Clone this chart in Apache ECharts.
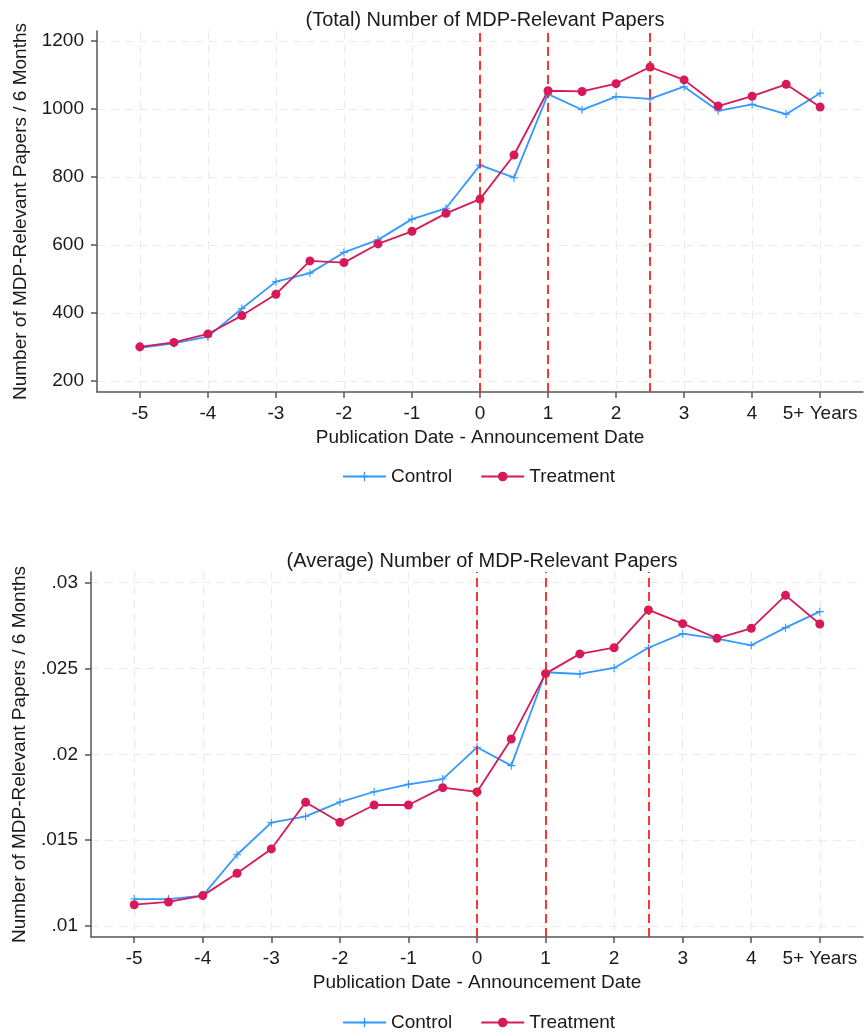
<!DOCTYPE html>
<html>
<head>
<meta charset="utf-8">
<script src="https://cdn.jsdelivr.net/npm/echarts@6/dist/echarts.min.js"></script>
<style>
  html, body { margin: 0; padding: 0; background: #fff; }
  #chart { width: 865px; height: 1036px; }
</style>
</head>
<body>
<div id="chart"></div>
<script>
// years relative to announcement, half-year steps
const xPos = [-5, -4.5, -4, -3.5, -3, -2.5, -2, -1.5, -1, -0.5, 0, 0.5, 1, 1.5, 2, 2.5, 3, 3.5, 4, 4.5, 5]
const xTicks = [-5, -4, -3, -2, -1, 0, 1, 2, 3, 4, 5]
const eventLines = [0, 1, 2.5]

const totalControl = [297, 310, 330, 413, 492, 517, 578, 615, 676, 708, 835, 798, 1044, 998, 1037, 1030, 1066, 995, 1014, 985, 1047]
const totalTreatment = [300, 313, 338, 392, 455, 553, 548, 603, 640, 693, 735, 865, 1054, 1052, 1075, 1124, 1086, 1009, 1038, 1073, 1006]
const totalTicks = [200, 400, 600, 800, 1000, 1200]

const avgControl = [0.01157, 0.01157, 0.01177, 0.01415, 0.01602, 0.01639, 0.01722, 0.01782, 0.01825, 0.01856, 0.02041, 0.01934, 0.02478, 0.02468, 0.02503, 0.02621, 0.02703, 0.02674, 0.02635, 0.02738, 0.02831]
const avgTreatment = [0.01124, 0.0114, 0.01177, 0.01307, 0.01449, 0.01721, 0.01604, 0.01705, 0.01705, 0.01806, 0.01781, 0.02089, 0.0247, 0.02585, 0.02621, 0.02841, 0.02761, 0.02676, 0.02734, 0.02926, 0.02759]
const avgTicks = [0.01, 0.015, 0.02, 0.025, 0.03]

const FONT = 'Arial, "Liberation Sans", sans-serif'
const TXT = '#1a1a1a'
const BLUE = '#3399ff'
const CRIMSON = '#d6195a'
const PLUS = 'path://M4.3,0H5.7V4.3H10V5.7H5.7V10H4.3V5.7H0V4.3H4.3Z'

function pairs (ys) {
  return xPos.map((x, i) => [x, ys[i]])
}

function xAxisOpt (gridIndex, nameGap) {
  return {
    type: 'value',
    gridIndex: gridIndex,
    min: -5.63,
    max: 5.63,
    name: 'Publication Date - Announcement Date',
    nameLocation: 'middle',
    nameGap: nameGap,
    nameTextStyle: { fontFamily: FONT, fontSize: 19, color: TXT },
    axisLine: { onZero: false, lineStyle: { color: '#555', width: 1.5 } },
    axisTick: { customValues: xTicks, length: 6, lineStyle: { color: '#555', width: 1.5 } },
    axisLabel: {
      customValues: xTicks,
      margin: 12,
      fontFamily: FONT,
      fontSize: 19,
      color: TXT,
      formatter: function (v) {
        return v === 5 ? '5+ Years' : String(v)
      }
    },
    splitLine: { show: true, lineStyle: { color: '#ebebeb', type: [8, 6], width: 1.2 } }
  }
}

function yAxisOpt (gridIndex, min, max, ticks, nameGap, fmt) {
  return {
    type: 'value',
    gridIndex: gridIndex,
    min: min,
    max: max,
    name: 'Number of MDP-Relevant Papers / 6 Months',
    nameLocation: 'middle',
    nameGap: nameGap,
    nameTextStyle: { fontFamily: FONT, fontSize: 19, color: TXT },
    axisLine: { show: true, onZero: false, lineStyle: { color: '#555', width: 1.5 } },
    axisTick: { show: true, customValues: ticks, length: 6, lineStyle: { color: '#555', width: 1.5 } },
    axisLabel: { customValues: ticks, margin: 13, fontFamily: FONT, fontSize: 19, color: TXT, formatter: fmt },
    splitLine: { show: true, lineStyle: { color: '#ebebeb', type: [8, 6], width: 1.2 } }
  }
}

function seriesPair (xi, ctrl, treat) {
  return [
    {
      name: 'Control',
      type: 'line',
      xAxisIndex: xi,
      yAxisIndex: xi,
      symbol: PLUS,
      symbolSize: 8,
      showAllSymbol: true,
      itemStyle: { color: BLUE },
      lineStyle: { color: BLUE, width: 1.8 },
      data: pairs(ctrl)
    },
    {
      name: 'Treatment',
      type: 'line',
      xAxisIndex: xi,
      yAxisIndex: xi,
      symbol: 'circle',
      symbolSize: 9,
      showAllSymbol: true,
      itemStyle: { color: CRIMSON },
      lineStyle: { color: CRIMSON, width: 1.8 },
      data: pairs(treat),
      // announcement / event markers
      markLine: {
        silent: true,
        symbol: 'none',
        label: { show: false },
        lineStyle: { color: '#ff2020', type: [9, 5], width: 1.8 },
        data: eventLines.map(v => ({ xAxis: v }))
      }
    }
  ]
}

function legendOpt (top) {
  return {
    top: top,
    left: 337,
    itemWidth: 43,
    itemHeight: 12,
    itemGap: 28,
    textStyle: { fontFamily: FONT, fontSize: 19, color: TXT },
    data: ['Control', 'Treatment']
  }
}

const chart = echarts.init(document.getElementById('chart'), null, { renderer: 'canvas' })
chart.setOption({
  animation: false,
  backgroundColor: '#fff',
  title: [
    { text: '(Total) Number of MDP-Relevant Papers', left: 480, textAlign: 'center', top: 5, textStyle: { fontFamily: FONT, fontSize: 20, fontWeight: 'normal', color: TXT } },
    { text: '(Average) Number of MDP-Relevant Papers', left: 477, textAlign: 'center', top: 546, textStyle: { fontFamily: FONT, fontSize: 20, fontWeight: 'normal', color: TXT } }
  ],
  legend: [
    legendOpt(462),
    legendOpt(1008)
  ],
  grid: [
    { left: 97, right: 2, top: 31, height: 361, outerBoundsMode: 'none' },
    { left: 91, right: 2, top: 572, height: 365, outerBoundsMode: 'none' }
  ],
  xAxis: [xAxisOpt(0, 36), xAxisOpt(1, 36)],
  yAxis: [
    yAxisOpt(0, 167, 1230, totalTicks, 67, v => String(v)),
    yAxisOpt(1, 0.00936, 0.03062, avgTicks, 62, v => String(+v.toFixed(3)).replace(/^0/, ''))
  ],
  series: seriesPair(0, totalControl, totalTreatment).concat(seriesPair(1, avgControl, avgTreatment))
})
</script>
</body>
</html>
